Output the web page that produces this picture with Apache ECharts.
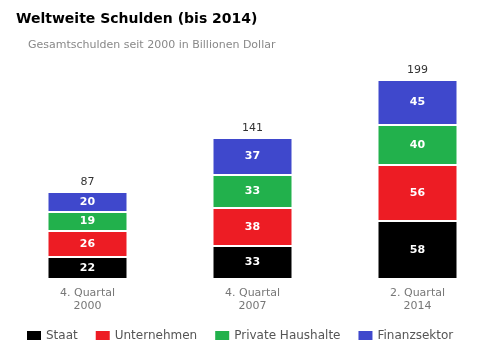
<!DOCTYPE html>
<html><head><meta charset="utf-8">
<script src="https://cdn.jsdelivr.net/npm/echarts@6/dist/echarts.min.js"></script>
<style>html,body{margin:0;padding:0;background:#fff}#c{width:500px;height:350px}</style>
</head><body><div id="c"></div>
<script>
const categories = ['4. Quartal\n2000', '4. Quartal\n2007', '2. Quartal\n2014'];
const staat = [22, 33, 58];
const unternehmen = [26, 38, 56];
const haushalte = [19, 33, 40];
const finanz = [20, 37, 45];
const totals = [87, 141, 199];
const seriesNames = ['Staat', 'Unternehmen', 'Private Haushalte', 'Finanzsektor'];
const colors = ['#000000', '#ED1C24', '#22B14C', '#3F48CC'];

const font = 'DejaVu Sans, Verdana, sans-serif';
const chart = echarts.init(document.getElementById('c'));
const inLabel = {show: true, position: 'inside', color: '#fff', fontWeight: 'bold', fontSize: 11, fontFamily: font};
const mk = (name, data, i) => ({
  name, type: 'bar', stack: 'a', data, barWidth: 80,
  itemStyle: {color: colors[i], borderColor: '#fff', borderWidth: 1},
  label: inLabel
});
chart.setOption({
  animation: false,
  title: [
    {text: 'Weltweite Schulden (bis 2014)', left: 11, top: 7, textStyle: {fontFamily: font, fontSize: 14, fontWeight: 'bold', color: '#000'}},
    {text: 'Gesamtschulden seit 2000 in Billionen Dollar', left: 23, top: 35, textStyle: {fontFamily: font, fontSize: 11, fontWeight: 'normal', color: '#888'}}
  ],
  grid: {left: 5, right: -3, top: 59, bottom: 71},
  xAxis: {type: 'category', data: categories, axisLine: {show: false}, axisTick: {show: false},
    axisLabel: {color: '#777', fontSize: 11, fontFamily: font, lineHeight: 13, margin: 8}},
  yAxis: {type: 'value', min: 0, max: 220, show: false, splitLine: {show: false}},
  legend: {data: seriesNames, left: 20, top: 324, padding: 5, itemWidth: 16, itemHeight: 11, itemGap: 16,
    textStyle: {color: '#555', fontSize: 12, fontFamily: font, padding: [0, 0, 0, -1]}, icon: 'rect'},
  series: [
    mk('Staat', staat, 0), mk('Unternehmen', unternehmen, 1), mk('Private Haushalte', haushalte, 2), mk('Finanzsektor', finanz, 3),
    {name: 'total', type: 'bar', stack: 'a', data: totals.map(() => 0), barWidth: 80,
     label: {show: true, position: 'top', distance: 4, color: '#333', fontSize: 11, fontFamily: font,
       formatter: p => totals[p.dataIndex]}}
  ]
});
</script></body></html>
